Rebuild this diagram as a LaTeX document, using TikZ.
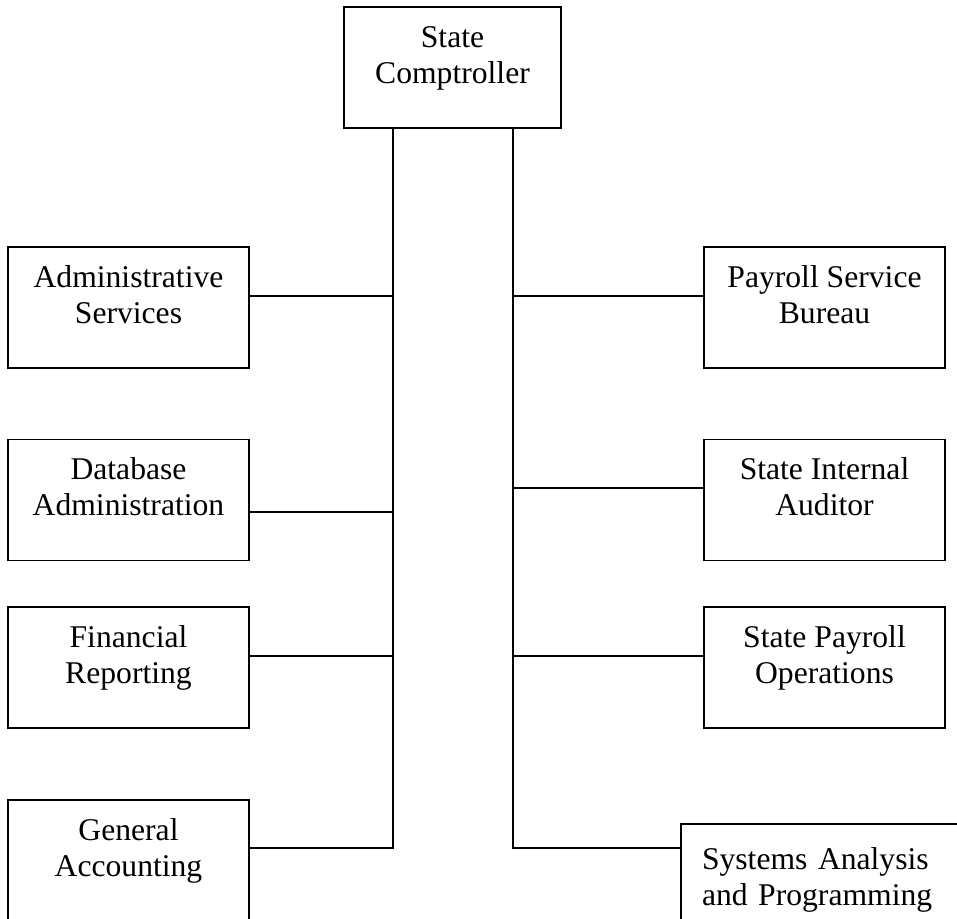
\documentclass[tikz,border=0pt]{standalone}
\usepackage{fontspec}
\setmainfont{Liberation Serif}
\tikzset{
  unitbox/.style={draw,line width=0.8pt,minimum width=4.82cm,minimum height=2.42cm,
    align=center,inner ysep=0pt,text height=33pt,text depth=14.8pt,
    font=\fontsize{18}{20.7}\selectfont},
  link/.style={line width=0.7pt}
}

\begin{document}
\begin{tikzpicture}[line cap=round,x=1.0cm,y=1.0cm]
            \useasboundingbox (0,0) rectangle (19.14,18.36);
            \clip (0,0) rectangle (19.14,18.36);
            % top
            \node[unitbox,minimum width=4.34cm] (comptroller) at (9.05,17.01) {State\\Comptroller};
            % left column
            \node[unitbox] (adminsvc) at (2.57,12.21) {Administrative\\Services};
            \node[unitbox] (dbadmin) at (2.57,8.36) {Database\\Administration};
            \node[unitbox] (finreport) at (2.57,5.01) {Financial\\Reporting};
            \node[unitbox] (genacct) at (2.57,1.15) {General\\Accounting};
            % right column
            \node[unitbox] (paybureau) at (16.49,12.21) {Payroll Service\\Bureau};
            \node[unitbox] (intaudit) at (16.49,8.36) {State Internal\\Auditor};
            \node[unitbox] (payops) at (16.49,5.01) {State Payroll\\Operations};
            \node[unitbox,minimum width=5.8cm,text width=4.96cm,inner xsep=0.42cm,align=left,
              text height=16pt,text depth=33.6pt] (sysanalysis) at (16.52,0.67) {Systems Analysis\\and Programming};
            % trunks
            \coordinate (lbot) at (7.86,1.40);
            \coordinate (rbot) at (10.26,1.40);
            \draw[link] (comptroller.south -| lbot) -- (lbot) -- (genacct.east |- lbot);
            \draw[link] (comptroller.south -| rbot) -- (rbot) -- (sysanalysis.west |- rbot);
            % branches
            \coordinate (ladmin) at (7.86,12.44);
            \coordinate (ldb) at (7.86,8.12);
            \coordinate (lfin) at (7.86,5.24);
            \coordinate (rbureau) at (10.26,12.44);
            \coordinate (raudit) at (10.26,8.60);
            \coordinate (rops) at (10.26,5.24);
            \draw[link] (ladmin) -- (adminsvc.east |- ladmin);
            \draw[link] (ldb) -- (dbadmin.east |- ldb);
            \draw[link] (lfin) -- (finreport.east |- lfin);
            \draw[link] (rbureau) -- (paybureau.west |- rbureau);
            \draw[link] (raudit) -- (intaudit.west |- raudit);
            \draw[link] (rops) -- (payops.west |- rops);
\end{tikzpicture}
\end{document}
